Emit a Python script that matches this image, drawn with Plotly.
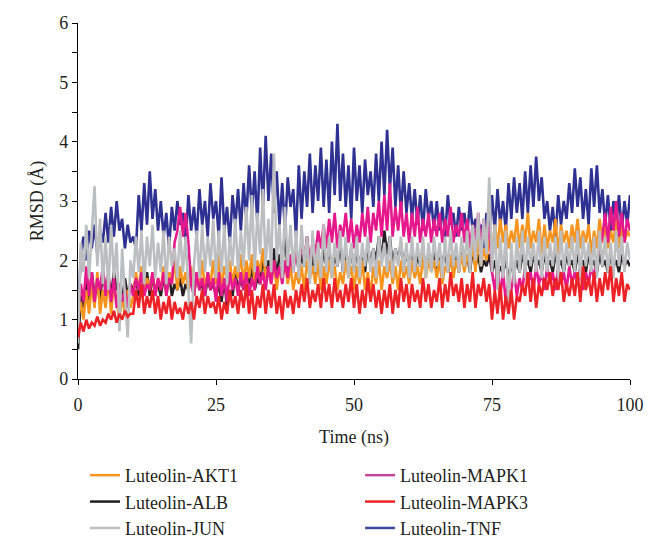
import numpy as np
import plotly.graph_objects as go

tnf = [
    1.0, 2.1, 2.4, 2.0, 2.5, 2.2, 2.6, 2.1, 2.5, 2.3,
    2.8, 2.3, 2.9, 2.4, 3.0, 2.5, 2.7, 2.2, 2.6, 2.3,
    2.4, 2.2, 3.1, 2.5, 3.3, 2.6, 3.5, 2.7, 3.2, 2.5,
    3.0, 2.4, 2.8, 2.2, 2.9, 2.5, 3.0, 2.6, 2.8, 2.3,
    3.1, 2.5, 2.9, 2.4, 3.2, 2.6, 3.0, 2.4, 3.3, 2.7,
    3.0, 2.4, 3.4, 2.5, 2.9, 2.3, 3.1, 2.6, 3.2, 2.5,
    3.3, 2.7, 3.6, 2.8, 3.5, 2.6, 3.9, 2.9, 4.1, 3.0,
    3.8, 2.8, 3.5, 2.6, 3.3, 2.5, 3.4, 2.9, 3.2, 2.4,
    3.6, 2.7, 3.5, 2.9, 3.8, 2.8, 3.6, 3.0, 3.9, 2.9,
    3.7, 2.8, 4.0, 3.1, 4.3, 3.0, 3.8, 2.9, 3.6, 2.7,
    3.9, 3.0, 3.6, 2.8, 3.7, 3.1, 3.5, 2.9, 3.8, 3.0,
    4.0, 3.1, 4.2, 3.2, 3.9, 2.9, 3.6, 2.8, 3.5, 2.8,
    3.3, 2.7, 3.2, 2.6, 3.1, 2.5, 3.2, 2.7, 3.0, 2.5,
    3.0, 2.5, 2.9, 2.4, 3.1, 2.6, 2.8, 2.4, 2.9, 2.5,
    2.8, 2.4, 3.0, 2.5, 2.7, 2.3, 2.6, 2.2, 2.8, 2.4,
    3.1, 2.5, 3.2, 2.6, 3.0, 2.5, 3.3, 2.7, 3.4, 2.8,
    3.3, 2.7, 3.5, 2.8, 3.6, 2.9, 3.75, 3.0, 3.4, 2.7,
    3.0, 2.5, 2.9, 2.4, 3.1, 2.6, 3.0, 2.7, 3.3, 2.8,
    3.55, 2.9, 3.4, 2.7, 3.2, 2.6, 3.55, 2.9, 3.6, 2.8,
    3.2, 2.6, 3.1, 2.5, 3.0, 2.6, 3.1, 2.5, 3.0, 2.6, 3.1,
]

jun = [
    0.6, 2.3, 1.8, 2.6, 1.7, 2.5, 3.25, 1.9, 2.7, 1.6,
    2.4, 1.5, 2.6, 1.7, 2.3, 0.8, 2.2, 1.4, 0.7, 2.0,
    1.7, 2.4, 1.8, 2.5, 1.6, 2.4, 1.9, 2.6, 1.7, 2.3,
    1.8, 2.5, 1.6, 2.4, 1.9, 2.2, 1.7, 2.5, 1.8, 2.4,
    1.5, 0.6, 1.9, 2.5, 1.7, 2.6, 1.8, 2.4, 1.9, 2.7,
    1.7, 2.5, 1.8, 2.6, 1.6, 2.4, 1.9, 2.7, 1.8, 2.5,
    1.9, 2.9, 2.0, 3.1, 1.8, 2.8, 2.1, 3.2, 1.9, 2.7,
    1.8, 3.8, 2.0, 2.6, 1.7, 2.9, 1.9, 2.6, 1.8, 2.5,
    1.7, 2.6, 1.9, 2.4, 1.6, 2.5, 1.8, 2.3, 1.7, 2.6,
    1.8, 2.4, 1.7, 2.3, 1.9, 2.5, 1.8, 2.4, 1.7, 2.3,
    1.8, 2.4, 1.7, 2.3, 1.9, 2.4, 1.8, 2.2, 1.7, 2.4,
    1.9, 2.3, 1.8, 2.4, 1.7, 2.2, 1.9, 2.4, 1.8, 2.3,
    1.7, 2.4, 1.8, 2.3, 1.9, 2.4, 1.7, 2.3, 1.8, 2.4,
    1.9, 2.3, 1.7, 2.4, 1.8, 2.5, 1.9, 2.3, 1.8, 2.4,
    1.9, 2.5, 1.8, 2.6, 2.0, 2.8, 1.9, 2.7, 2.1, 3.4,
    1.8, 2.6, 1.5, 2.4, 1.7, 2.5, 1.1, 2.3, 1.6, 2.4,
    1.8, 2.5, 1.7, 2.4, 1.9, 2.3, 1.8, 2.5, 1.7, 2.4,
    1.8, 2.3, 1.9, 2.4, 1.7, 2.5, 1.8, 2.3, 1.9, 2.4,
    1.8, 2.5, 1.7, 2.4, 1.9, 2.3, 1.8, 2.4, 1.7, 2.5,
    1.9, 2.4, 1.8, 2.3, 1.7, 2.5, 1.9, 2.4, 1.8, 2.3, 2.0,
]

akt1 = [
    1.0, 1.3, 1.0, 1.5, 1.1, 1.6, 1.2, 1.8, 1.1, 1.5,
    1.2, 1.7, 1.1, 1.6, 1.3, 1.0, 1.4, 1.1, 1.5, 1.2,
    1.4, 1.8, 1.5, 1.9, 1.4, 1.7, 1.5, 1.8, 1.4, 1.7,
    1.5, 1.9, 1.4, 1.8, 1.6, 2.0, 1.5, 1.9, 1.6, 1.8,
    1.5, 1.9, 1.4, 1.8, 1.6, 2.0, 1.5, 1.8, 1.6, 2.0,
    1.6, 2.1, 1.5, 1.9, 1.7, 2.0, 1.6, 1.9, 1.7, 2.1,
    1.6, 2.0, 1.7, 2.1, 1.6, 2.0, 1.8, 2.2, 1.7, 1.9,
    1.6, 2.0, 1.5, 1.9, 1.7, 2.0, 1.6, 1.9, 1.5, 1.8,
    1.6, 1.9, 1.5, 2.0, 1.7, 1.9, 1.6, 2.0, 1.5, 1.9,
    1.6, 2.0, 1.7, 1.9, 1.5, 1.8, 1.6, 2.0, 1.7, 1.9,
    1.5, 1.9, 1.6, 2.0, 1.5, 1.8, 1.4, 1.9, 1.6, 2.0,
    1.5, 1.9, 1.7, 2.0, 1.6, 1.9, 1.5, 2.0, 1.7, 1.9,
    1.6, 2.0, 1.7, 1.9, 1.6, 2.1, 1.7, 2.0, 1.8, 2.0,
    1.7, 2.0, 1.6, 1.9, 1.8, 2.1, 1.7, 2.0, 1.8, 2.1,
    1.8, 2.1, 1.9, 2.3, 1.8, 2.4, 1.9, 2.2, 2.0, 2.4,
    2.1, 2.6, 2.2, 2.7, 2.3, 2.6, 2.2, 2.5, 2.3, 2.7,
    2.2, 2.6, 2.3, 2.8, 2.2, 2.5, 2.3, 2.7, 2.1, 2.6,
    2.2, 2.5, 2.3, 2.7, 2.1, 2.6, 2.3, 2.5, 2.2, 2.6,
    2.3, 2.7, 2.2, 2.5, 2.3, 2.6, 2.1, 2.5, 2.2, 2.7,
    2.3, 2.6, 2.2, 2.5, 2.3, 2.7, 2.2, 2.6, 2.3, 2.5, 2.4,
]

alb = [
    0.5, 1.4, 1.2, 1.7, 1.3, 1.8, 1.4, 1.6, 1.3, 1.85,
    1.5, 1.7, 1.4, 1.8, 1.5, 1.6, 1.3, 1.7, 1.4, 1.6,
    1.5, 1.7, 1.4, 1.6, 1.5, 1.8, 1.4, 1.7, 1.5, 1.6,
    1.4, 1.7, 1.5, 1.8, 1.4, 1.6, 1.5, 1.7, 1.4, 1.6,
    1.5, 1.7, 1.4, 1.8, 1.5, 1.6, 1.4, 1.7, 1.5, 1.6,
    1.4, 1.6, 1.3, 1.7, 1.2, 1.5, 1.4, 1.8, 1.5, 1.7,
    1.5, 1.8, 1.6, 1.9, 1.5, 1.7, 1.6, 2.1, 1.7, 2.0,
    1.8, 2.2, 1.7, 2.1, 1.9, 2.5, 1.8, 2.0, 1.9, 2.2,
    1.8, 2.1, 1.9, 2.4, 1.8, 2.1, 1.7, 2.0, 1.8, 2.2,
    1.9, 2.2, 1.8, 2.1, 1.9, 2.3, 1.8, 2.1, 1.9, 2.2,
    1.8, 2.2, 1.9, 2.1, 1.8, 2.3, 1.9, 2.2, 2.0, 2.4,
    2.0, 2.5, 2.1, 2.4, 1.9, 2.2, 2.0, 2.3, 1.9, 2.1,
    1.9, 2.2, 1.8, 2.1, 1.9, 2.2, 1.8, 2.1, 1.9, 2.2,
    1.8, 2.1, 1.9, 2.2, 1.8, 2.0, 1.9, 2.1, 1.8, 2.2,
    1.9, 2.1, 1.8, 2.2, 1.9, 2.1, 1.8, 2.0, 1.9, 2.1,
    1.8, 2.0, 1.7, 1.9, 1.8, 2.0, 1.7, 1.9, 1.8, 2.0,
    1.8, 2.1, 1.9, 2.0, 1.8, 2.1, 1.9, 2.0, 1.8, 2.1,
    1.9, 2.0, 1.8, 2.1, 1.9, 2.0, 1.8, 2.1, 1.9, 2.0,
    1.8, 2.1, 1.9, 2.0, 1.8, 2.1, 1.9, 2.0, 1.8, 2.1,
    1.9, 2.0, 1.8, 2.1, 1.9, 2.0, 1.8, 2.1, 1.9, 2.0, 1.9,
]

mapk1 = [
    1.1, 1.6, 1.3, 1.9, 1.4, 1.8, 1.3, 1.7, 1.5, 1.9,
    1.4, 1.8, 1.3, 1.7, 1.2, 1.6, 1.3, 1.5, 1.2, 1.6,
    1.4, 1.7, 1.5, 1.8, 1.4, 1.6, 1.5, 1.8, 1.4, 1.7,
    1.5, 1.8, 1.4, 1.7, 1.6, 2.3, 2.5, 2.9, 2.4, 2.8,
    2.3, 1.6, 1.4, 1.8, 1.5, 1.7, 1.4, 1.8, 1.5, 1.7,
    1.3, 1.8, 1.4, 1.7, 1.3, 1.8, 1.5, 1.7, 1.4, 1.8,
    1.5, 1.8, 1.4, 1.7, 1.5, 1.9, 1.6, 1.8, 1.5, 1.9,
    1.6, 2.0, 1.7, 1.9, 1.6, 2.0, 1.7, 2.1, 1.8, 2.2,
    1.9, 2.3, 2.0, 2.4, 1.9, 2.3, 2.1, 2.5, 2.2, 2.6,
    2.2, 2.7, 2.3, 2.8, 2.2, 2.6, 2.4, 2.8, 2.3, 2.7,
    2.2, 2.6, 2.3, 2.8, 2.4, 2.9, 2.3, 2.8, 2.5, 3.0,
    2.4, 3.1, 2.5, 3.3, 2.4, 2.9, 2.5, 3.0, 2.4, 2.8,
    2.3, 2.8, 2.4, 2.9, 2.3, 2.7, 2.4, 2.8, 2.3, 2.7,
    2.4, 2.8, 2.3, 2.7, 2.4, 2.9, 2.3, 2.6, 2.4, 2.8,
    2.3, 2.7, 2.2, 2.6, 2.3, 2.8, 2.2, 2.7, 2.3, 2.6,
    1.8, 1.5, 1.9, 1.4, 1.8, 1.3, 1.7, 1.5, 1.8, 1.4,
    1.7, 1.5, 1.9, 1.6, 1.8, 1.5, 1.9, 1.6, 1.8, 1.5,
    1.9, 1.6, 1.8, 1.5, 1.9, 1.6, 1.8, 1.5, 1.9, 1.6,
    1.8, 1.6, 1.9, 1.5, 1.8, 1.6, 1.9, 1.7, 2.0, 2.2,
    2.4, 2.8, 2.3, 2.9, 2.5, 3.0, 2.4, 2.8, 2.3, 2.7, 2.5,
]

mapk3 = [
    0.7, 0.95, 0.8, 1.0, 0.85, 0.95, 0.9, 1.05, 0.9, 1.0,
    0.95, 1.1, 1.0, 1.15, 0.95, 1.1, 1.0, 1.15, 1.05, 1.1,
    1.1, 1.5, 1.2, 1.6, 1.1, 1.4, 1.2, 1.5, 1.1, 1.4,
    1.0, 1.3, 1.1, 1.4, 1.0, 1.3, 1.1, 1.2, 1.0, 1.3,
    1.1, 1.3, 1.0, 1.4, 1.2, 1.5, 1.1, 1.4, 1.2, 1.3,
    1.1, 1.4, 1.0, 1.3, 1.1, 1.5, 1.2, 1.4, 1.1, 1.5,
    1.2, 1.6, 1.1, 1.5, 1.0, 1.4, 1.2, 1.6, 1.1, 1.5,
    1.2, 1.6, 1.1, 1.4, 1.0, 1.5, 1.2, 1.4, 1.1, 1.5,
    1.2, 1.6, 1.3, 1.7, 1.2, 1.5, 1.3, 1.6, 1.2, 1.7,
    1.3, 1.6, 1.2, 1.7, 1.3, 1.5, 1.2, 1.6, 1.3, 1.7,
    1.2, 1.6, 1.1, 1.5, 1.2, 1.7, 1.3, 1.6, 1.2, 1.5,
    1.1, 1.5, 1.2, 1.6, 1.1, 1.5, 1.2, 1.7, 1.3, 1.6,
    1.2, 1.6, 1.3, 1.5, 1.2, 1.7, 1.3, 1.6, 1.2, 1.5,
    1.3, 1.7, 1.2, 1.6, 1.3, 1.8, 1.4, 1.6, 1.3, 1.7,
    1.2, 1.6, 1.3, 1.8, 1.2, 1.6, 1.4, 1.7, 1.3, 1.6,
    1.0, 1.5, 1.1, 1.6, 1.0, 1.4, 1.1, 1.5, 1.0, 1.4,
    1.3, 1.6, 1.4, 1.8, 1.3, 1.7, 1.2, 1.6, 1.4, 1.7,
    1.5, 1.8, 1.4, 1.7, 1.5, 1.8, 1.3, 1.6, 1.4, 1.7,
    1.4, 1.8, 1.3, 1.9, 1.5, 1.7, 1.4, 1.8, 1.3, 1.7,
    1.4, 1.8, 1.5, 1.9, 1.3, 1.7, 1.4, 1.8, 1.3, 1.6, 1.5,
]

names = {
    "tnf": "Luteolin-TNF", "alb": "Luteolin-ALB", "akt1": "Luteolin-AKT1",
    "mapk1": "Luteolin-MAPK1", "jun": "Luteolin-JUN", "mapk3": "Luteolin-MAPK3",
}
colors = {
    "tnf": "#2E3192", "alb": "#231F20", "akt1": "#F7941D",
    "mapk1": "#E6198C", "jun": "#BCBEC0", "mapk3": "#EC2227",
}
legend_colors = {"mapk1": "#C1489B", "tnf": "#3C4BA0"}
series = {"tnf": tnf, "alb": alb, "akt1": akt1, "mapk1": mapk1, "jun": jun, "mapk3": mapk3}
legend_of = {"akt1": ("legend", 1), "alb": ("legend", 2), "jun": ("legend", 3),
             "mapk1": ("legend2", 1), "mapk3": ("legend2", 2), "tnf": ("legend2", 3)}

draw_order = ["tnf", "alb", "akt1", "mapk1", "jun", "mapk3"]

fig = go.Figure()
for key in draw_order:
    vals = series[key]
    t = np.linspace(0, 100, len(vals))
    lg, rank = legend_of[key]
    fig.add_trace(go.Scatter(
        x=t, y=vals, mode="lines", name=names[key],
        line=dict(color=colors[key], width=2.6),
        legend=lg, legendrank=rank, showlegend=False,
    ))
    fig.add_trace(go.Scatter(
        x=[None], y=[None], mode="lines", name=names[key],
        line=dict(color=legend_colors.get(key, colors[key]), width=2.5),
        legend=lg, legendrank=rank, showlegend=True,
    ))

font_family = "Liberation Serif, Times New Roman, serif"
axis_common = dict(
    showline=True, linecolor="black", linewidth=1.3,
    ticks="outside", ticklen=5, tickwidth=1.3, tickcolor="black",
    showgrid=False, zeroline=False, automargin=False,
    tickfont=dict(family=font_family, size=18, color="#231F20"),
)

legend_common = dict(
    xanchor="left", yanchor="top",
    orientation="v", traceorder="normal",
    font=dict(family=font_family, size=18, color="#231F20"),
    bgcolor="rgba(0,0,0,0)",
)

# figure runs a little past the window bottom so the legend has room
fig.update_layout(
    width=648, height=575,
    margin=dict(l=78, r=18, t=23, b=196),
    paper_bgcolor="white", plot_bgcolor="white",
    font=dict(family=font_family, size=18, color="#231F20"),
    xaxis=dict(range=[0, 100], tickvals=[0, 25, 50, 75, 100],
               ticklabelstandoff=4,
               title=dict(text="Time (ns)", standoff=16,
                          font=dict(family=font_family, size=18)),
               **axis_common),
    yaxis=dict(range=[0, 6], dtick=1, tick0=0,
               minor=dict(dtick=0.5, ticks="outside", ticklen=5, tickwidth=1.3, tickcolor="black"),
               title=dict(text="RMSD (Å)", standoff=10,
                          font=dict(family=font_family, size=18)),
               **axis_common),
    legend=dict(x=0.0127, y=-0.219, **legend_common),
    legend2=dict(x=0.511, y=-0.219, **legend_common),
    showlegend=True,
)

fig.write_html(
    "out.html",
    config={"displayModeBar": False},
    post_script="document.body.style.margin='0px';"
                "document.body.style.overflow='hidden';"
                "document.documentElement.style.overflow='hidden';",
)
